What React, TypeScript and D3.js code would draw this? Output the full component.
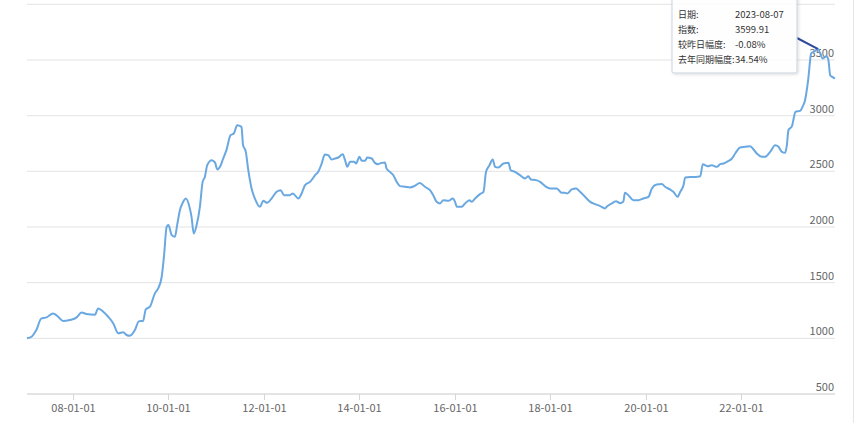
import React from "react";
import * as d3 from "d3";

const dates: string[] = [
  "2007-01-17","2007-02-21","2007-03-29","2007-05-07","2007-06-15","2007-08-04","2007-09-12","2007-10-20","2007-12-10",
  "2008-02-01","2008-03-09","2008-04-16","2008-06-19","2008-07-14","2008-08-22","2008-09-29","2008-11-07","2008-12-15",
  "2009-01-22","2009-02-17","2009-03-13","2009-04-21","2009-05-21","2009-06-23","2009-07-13","2009-08-14","2009-09-21","2009-10-16","2009-11-12","2009-11-29","2009-12-20",
  "2010-01-02","2010-01-28","2010-02-21","2010-03-10","2010-03-31","2010-04-25","2010-05-15","2010-06-15","2010-06-28","2010-07-15","2010-08-06","2010-08-31","2010-09-21","2010-10-08","2010-10-26","2010-11-29","2010-12-24",
  "2011-01-11","2011-02-01","2011-02-25","2011-03-22","2011-04-22","2011-05-17","2011-06-12","2011-07-15","2011-07-27","2011-08-17","2011-09-05","2011-09-30","2011-10-25","2011-12-03","2011-12-28",
  "2012-01-28","2012-03-01","2012-04-09","2012-05-09","2012-06-04","2012-07-19","2012-08-10","2012-09-22","2012-10-17","2012-11-12","2012-12-20",
  "2013-01-28","2013-02-21","2013-03-19","2013-04-13","2013-05-08","2013-06-03","2013-06-28","2013-07-24","2013-08-27","2013-09-14","2013-10-01","2013-10-22","2013-11-22","2013-12-07",
  "2014-01-02","2014-01-20","2014-02-14","2014-03-02","2014-04-05","2014-04-30","2014-05-25","2014-06-20","2014-07-16","2014-07-28","2014-08-23","2014-09-18","2014-10-14","2014-11-08","2014-12-16",
  "2015-01-24","2015-03-01","2015-04-09","2015-05-17","2015-06-25","2015-07-20","2015-08-15","2015-09-10","2015-10-05","2015-11-13","2015-12-16",
  "2016-01-03","2016-01-16","2016-02-23","2016-03-19","2016-04-21","2016-05-09","2016-06-04","2016-07-12","2016-08-07","2016-08-27","2016-09-22","2016-10-17","2016-11-04","2016-11-29",
  "2017-01-07","2017-02-14","2017-03-03","2017-04-05","2017-05-13","2017-06-21","2017-07-16","2017-08-04","2017-09-14","2017-10-14","2017-11-22","2017-12-30",
  "2018-02-19","2018-03-28","2018-04-22","2018-05-10","2018-06-13","2018-07-16","2018-08-16","2018-09-23","2018-11-01","2018-12-09",
  "2019-01-17","2019-02-23","2019-03-07","2019-04-15","2019-05-17","2019-06-17","2019-07-12","2019-07-25","2019-08-20","2019-09-27","2019-11-05","2019-12-13",
  "2020-01-21","2020-02-16","2020-03-24","2020-05-02","2020-05-27","2020-07-04","2020-07-29","2020-08-30","2020-09-20","2020-10-15","2020-10-28","2020-12-05",
  "2021-01-13","2021-02-20","2021-03-11","2021-04-16","2021-05-19","2021-06-27","2021-07-22","2021-08-17","2021-09-12","2021-10-20","2021-11-14","2021-12-22",
  "2022-01-30","2022-03-08","2022-03-28","2022-04-28","2022-06-06","2022-06-30","2022-08-08","2022-09-16","2022-10-11","2022-11-06","2022-12-01","2022-12-14","2022-12-26",
  "2023-01-22","2023-02-04","2023-02-17","2023-03-25","2023-04-15","2023-05-02","2023-05-15","2023-05-27","2023-06-10","2023-06-17","2023-07-17","2023-08-07","2023-09-15","2023-10-15","2023-10-28","2023-11-10","2023-12-05","2023-12-17"
];

const values: number[] = [
  1000,1014,1074,1179,1188,1224,1194,1155,1164,
  1188,1233,1218,1212,1269,1239,1194,1134,1045,
  1054,1030,1023,1074,1152,1158,1260,1284,1404,1449,1553,1732,2002,
  2017,1927,1912,2017,2151,2226,2256,2167,2091,1942,2017,2181,2405,2450,2555,2600,2580,
  2517,2540,2615,2690,2824,2839,2914,2899,2735,2675,2510,2346,2256,2181,2235,
  2217,2256,2316,2331,2286,2286,2301,2256,2301,2376,2405,
  2465,2495,2570,2651,2645,2606,2615,2624,2654,2600,2540,2585,2585,2570,
  2630,2594,2594,2624,2615,2576,2564,2576,2580,2526,2495,2465,2405,2367,2361,
  2355,2370,2396,2361,2331,2286,2226,2211,2241,2235,2256,
  2226,2181,2181,2211,2241,2226,2256,2295,2316,2495,2555,2606,2540,2534,
  2570,2576,2510,2495,2465,2436,2456,2427,2421,2405,2367,2346,
  2346,2307,2307,2301,2337,2346,2316,2271,2226,2205,
  2187,2167,2181,2211,2232,2214,2226,2307,2285,2241,2241,2256,
  2271,2346,2382,2385,2361,2337,2316,2271,2316,2376,2445,2450,
  2450,2456,2564,2546,2555,2540,2564,2570,2585,2615,2660,2714,
  2720,2726,2705,2660,2630,2630,2675,2735,2720,2675,2666,2735,2869,
  2905,2974,3034,3043,3085,3138,3228,3333,3498,3558,3580,3599.91,3513,3534,3498,3363,3342,3333
];

const xTickDates: string[] = ["2008-01-01","2010-01-01","2012-01-01","2014-01-01","2016-01-01","2018-01-01","2020-01-01","2022-01-01"];
const yTicks: number[] = [500,1000,1500,2000,2500,3000,3500,4000];
const yLabelTicks: number[] = [500,1000,1500,2000,2500,3000,3500];

const tooltipLabels: string[] = ["日期:", "指数:", "较昨日幅度:", "去年同期幅度:"];
const tooltipValues: string[] = ["2023-08-07", "3599.91", "-0.08%", "34.54%"];
const hoverDate = "2023-08-07";

export default function App() {
  const W = 855, H = 423;
  const parse = d3.timeParse("%Y-%m-%d");
  const data = dates.map((d, i) => ({ date: parse(d) as Date, value: values[i] }));
  const x = d3.scaleTime()
    .domain(d3.extent(data, d => d.date) as [Date, Date])
    .range([27, 835]);
  const y = d3.scaleLinear().domain([500, 4000]).range([394, 4.3]);
  const line = d3.line<{ date: Date; value: number }>()
    .x(d => x(d.date))
    .y(d => y(d.value))
    .curve(d3.curveMonotoneX);
  const fmt = d3.timeFormat("%y-%m-%d");
  const hi = dates.indexOf(hoverDate);
  const hx = x(data[hi].date), hy = y(data[hi].value);
  const font = "'Noto Sans CJK SC', 'Noto Sans', sans-serif";

  return (
    <svg width={W} height={H} style={{ position: "absolute", left: 0, top: 0, background: "#fff" }}>
      <defs>
        <filter id="sh" x="-10%" y="-10%" width="130%" height="140%">
          <feDropShadow dx="1" dy="1" stdDeviation="1.5" floodColor="#000" floodOpacity="0.15" />
        </filter>
      </defs>
      {yTicks.map(t => (
        <line key={t} x1={27} x2={835} y1={y(t)} y2={y(t)} stroke="#e3e3e3" strokeWidth={1} />
      ))}
      {yLabelTicks.map(t => (
        <text key={t} x={834} y={y(t) - 3} textAnchor="end" fontSize={11} fill="#666" fontFamily={font}>{t}</text>
      ))}
      <line x1={27} x2={835} y1={394} y2={394} stroke="#d6d6d6" strokeWidth={1} />
      {xTickDates.map(s => {
        const d = parse(s) as Date;
        const tx = Math.round(x(d)) + 0.5;
        return (
          <g key={s}>
            <line x1={tx} x2={tx} y1={394} y2={400} stroke="#d6d6d6" />
            <text x={tx} y={412} textAnchor="middle" fontSize={11} fill="#666" fontFamily={font}>{fmt(d)}</text>
          </g>
        );
      })}
      <path d={line(data) || ""} fill="none" stroke="#6aa8e2" strokeWidth={2} strokeLinejoin="round" />
      <line x1={853.5} x2={853.5} y1={0} y2={H} stroke="#e6e6e6" />
      <line x1={797} y1={38} x2={hx} y2={hy} stroke="#2e4a9a" strokeWidth={2} />
      <rect x={672} y={-6} width={125} height={79} rx={2} fill="#fff" fillOpacity={0.9} stroke="#c9d3df" strokeWidth={1} filter="url(#sh)" />
      {tooltipLabels.map((l, i) => (
        <g key={l}>
          <text x={678} y={18 + i * 15} fontSize={9} fill="#333" fontFamily={font}>{l}</text>
          <text x={735} y={18 + i * 15} fontSize={9.5} fill="#333" fontFamily={font}>{tooltipValues[i]}</text>
        </g>
      ))}
    </svg>
  );
}
